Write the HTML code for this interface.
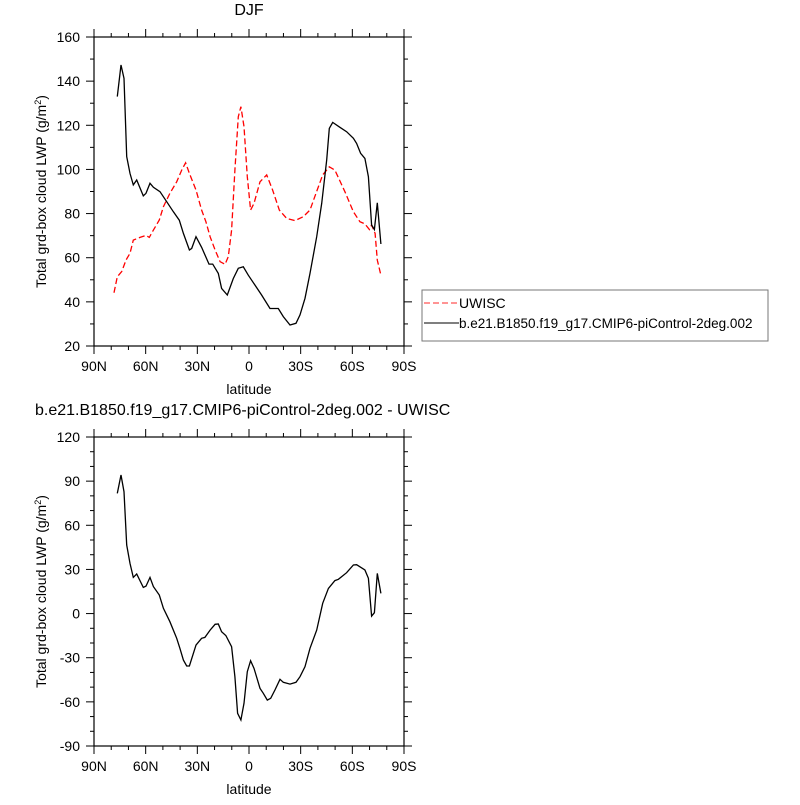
<!DOCTYPE html>
<html><head><meta charset="utf-8"><style>
html,body{margin:0;padding:0;background:#fff;}
svg text{font-family:"Liberation Sans",Arial,sans-serif;}
</style></head><body>
<svg id="c" width="800" height="800" viewBox="0 0 800 800" xmlns="http://www.w3.org/2000/svg"></svg>
<script>
// Top panel data (latitude, north positive)
const modelLat = [76.5,74.3,72.6,71,69.1,67.2,65.2,61.4,59.8,57.5,55.5,51.7,47.8,43.9,40.5,38.1,34.6,33.3,30.8,27.5,23.2,21.1,17.8,15.9,12.6,9.1,6.2,3.3,0.4,-3.5,-7.3,-12.2,-17,-19.9,-23.8,-27.3,-29.6,-32.5,-35.4,-39.3,-42.2,-45.1,-46.6,-48.6,-52.8,-56.7,-60.6,-62.5,-64.8,-67.3,-69.3,-71.2,-72.8,-74.5,-76.6];
const modelVal = [133,147.3,141.3,105.8,98.2,93,95.2,88,89.2,93.7,91.9,89.9,85.4,80.8,77,71,63.5,64.2,69.5,64.7,57.1,57.1,52.9,46.1,43.1,50.6,55.2,55.9,52.1,47.6,43.1,37,37,33.3,29.5,30.3,34.1,41.6,52.9,69.5,84.6,104.3,118.6,121.3,119.1,117.1,114.1,111.8,107.3,105,96.7,74.8,72.8,84.9,66.2];
const obsLat = [78.4,76.5,73.9,71.4,69.1,67.2,63.3,59.8,57.9,55.5,52.1,49.7,45.9,42,39.1,36.8,34.6,30.8,27.5,25,22.6,19.7,16.8,13.9,12,10.1,8.2,6.2,4.7,2.9,1,-0.9,-2.9,-6.4,-10.3,-13.7,-17.6,-21.9,-26.7,-31.5,-35.4,-38.9,-42.8,-46.6,-49.9,-55.7,-60.6,-64.4,-67.3,-69.9,-71.2,-73.2,-74.5,-76.6];
const obsVal = [44.1,51.4,53.7,58.9,62,68,69.2,70.1,69.2,72.5,77.1,83.1,89.2,94.4,99.7,103,98.2,90.7,81.6,76.3,69.5,63.5,58.2,57,60.5,72.5,99.7,123.9,128.4,119.4,96.7,81.6,84.6,94.4,97.5,90.7,81.6,77.8,76.8,78.6,81.6,89.2,97.5,101.2,99.7,89.9,80.8,76.3,75.3,72.8,74.8,71,58.9,52.1];
// Bottom panel (difference)
const diffLat = [76.5,74.3,72.6,71,69.1,67.2,65.2,61.4,59.8,57.5,55.5,52.1,49.7,45.9,42,40.1,38.1,36.2,34.6,30.8,27.5,25.6,22.6,19.7,17.8,15.9,13.4,10.1,8.2,6.6,4.7,2.9,1,-0.9,-2.9,-6.4,-8.3,-10.6,-12.6,-15.1,-18,-19.9,-23.8,-27.3,-29.6,-32.5,-35.4,-39.3,-42.8,-46.1,-49.9,-51.9,-56.7,-60.6,-62.5,-67.3,-69.3,-71.2,-72.8,-74.5,-76.6];
const diffVal = [81.7,94.2,82.8,46.6,34.1,24.6,26.9,17.8,18.7,24.6,18.3,12.6,3.6,-5.5,-16.8,-23.6,-31.6,-35.6,-35.6,-21.4,-16.8,-16.2,-11.2,-7.3,-7.1,-12.3,-15,-22.5,-42.9,-67.8,-72.3,-61,-39.5,-32,-37.2,-50.8,-54.2,-58.8,-57.6,-51.9,-44.7,-46.7,-47.9,-46.7,-42.9,-36.1,-23.6,-11.2,7,17.1,22.4,23.3,27.8,33,33.2,29.6,24,-1.7,0.6,27.3,13.7];
const xTickVals = [90,60,30,0,-30,-60,-90];
const xTickLabels = ["90N","60N","30N","0","30S","60S","90S"];
const topYTicks = [20,40,60,80,100,120,140,160];
const botYTicks = [-90,-60,-30,0,30,60,90,120];

const svg = document.getElementById('c');
const NS = 'http://www.w3.org/2000/svg';
function mk(tag, attrs, parent){const e=document.createElementNS(NS,tag);for(const k in attrs)e.setAttribute(k,attrs[k]);(parent||svg).appendChild(e);return e;}

function panel(name, L, T, R, B, ymin, ymax, yticks, yminor, title, titleX, titleAnchor, titleSize){
  const g = mk('g',{});
  
  
  const xs = lat => L + (90-lat)/180*(R-L);
  const ys = v => B - (v-ymin)/(ymax-ymin)*(B-T);
  const fr = mk('rect',{x:L,y:T,width:R-L,height:B-T,fill:'none',stroke:'#000','stroke-width':1.2},g);
  
  
  for(let lat=90; lat>=-90; lat-=10){
    const major = lat%30===0, len = major?8:4, x = xs(lat);
    mk('line',{x1:x,y1:B,x2:x,y2:B+len,stroke:'#000','stroke-width':1},g);
    mk('line',{x1:x,y1:T,x2:x,y2:T-len,stroke:'#000','stroke-width':1},g);
  }
  xTickVals.forEach((v,i)=>{
    const t = mk('text',{x:xs(v),y:B+25,'text-anchor':'middle','font-size':14},g);
    t.textContent = xTickLabels[i];
    
    
  });
  for(let v=ymin; v<=ymax+1e-9; v+=yminor){
    const major = yticks.includes(v), len = major?8:4, y = ys(v);
    mk('line',{x1:L,y1:y,x2:L-len,y2:y,stroke:'#000','stroke-width':1},g);
    mk('line',{x1:R,y1:y,x2:R+len,y2:y,stroke:'#000','stroke-width':1},g);
  }
  yticks.forEach(v=>{
    const t = mk('text',{x:L-14,y:ys(v)+5,'text-anchor':'end','font-size':14},g);
    t.textContent = String(v);
    
    
  });
  const xt = mk('text',{x:(L+R)/2,y:B+48,'text-anchor':'middle','font-size':14},g);
  xt.textContent='latitude';
  
  
  const cy=(T+B)/2;
  const yt = mk('text',{x:46,y:cy,'text-anchor':'middle','font-size':14,transform:'rotate(-90 46 '+cy+')'},g);
  yt.innerHTML='Total grd-box cloud LWP (g/m<tspan dy="-5" font-size="9">2</tspan><tspan dy="5">)</tspan>';
  
  
  const tt = mk('text',{x:titleX,y:T-22,'text-anchor':titleAnchor,'font-size':titleSize},g);
  tt.textContent=title;
  
  
  return {g:g,xs:xs,ys:ys};
}
function series(p, lats, vals, color, dash, name){
  const d = lats.map((l,i)=>(i?'L':'M')+p.xs(l).toFixed(1)+' '+p.ys(vals[i]).toFixed(1)).join(' ');
  const a = {d:d, fill:'none', stroke:color, 'stroke-width':1.3};
  if(dash) a['stroke-dasharray']=dash;
  const path = mk('path',a,p.g);
  
  
}

const topPanel = panel('top-panel',94,37,404,346,20,160,topYTicks,10,'DJF',249,'middle',16);
series(topPanel, obsLat, obsVal, '#ff0000', '6 3', 'uwisc-line');
series(topPanel, modelLat, modelVal, '#000', null, 'model-line');

const bottomPanel = panel('bottom-panel',94,437,404,746,-90,120,botYTicks,10,'b.e21.B1850.f19_g17.CMIP6-piControl-2deg.002 - UWISC',35,'start',16);
series(bottomPanel, diffLat, diffVal, '#000', null, 'difference-line');

const lg = mk('g',{});


mk('rect',{x:422,y:290,width:346,height:51,fill:'#fff',stroke:'#777','stroke-width':1},lg);
mk('line',{x1:424,y1:303,x2:459,y2:303,stroke:'#ff5555','stroke-width':1.3,'stroke-dasharray':'6 3'},lg);
mk('line',{x1:424,y1:323,x2:459,y2:323,stroke:'#333','stroke-width':1.3},lg);
const l1=mk('text',{x:459,y:308,'font-size':14},lg); l1.textContent='UWISC';


const l2=mk('text',{x:459,y:328,'font-size':13.5},lg); l2.textContent='b.e21.B1850.f19_g17.CMIP6-piControl-2deg.002';


</script>
</body></html>
